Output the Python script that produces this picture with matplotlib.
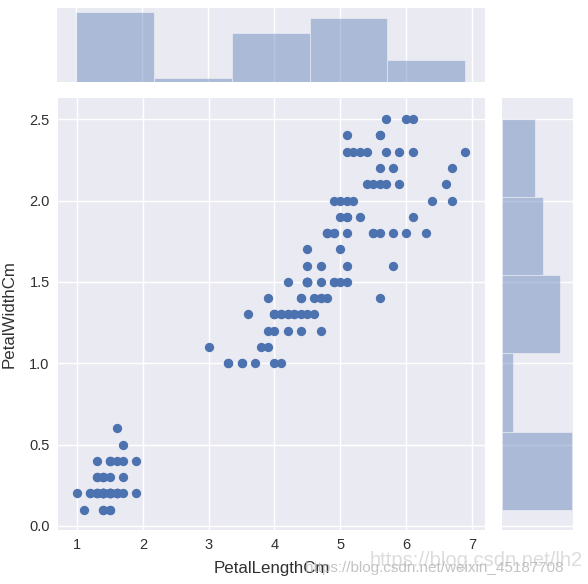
import matplotlib
matplotlib.use("Agg")
import matplotlib.pyplot as plt

# iris petal measurements, setosa / versicolor / virginica
setosa_len = [1.4,1.4,1.3,1.5,1.4,1.7,1.4,1.5,1.4,1.5,1.5,1.6,1.4,1.1,1.2,1.5,1.3,1.4,1.7,1.5,1.7,1.5,1.0,1.7,1.9,
              1.6,1.6,1.5,1.4,1.6,1.6,1.5,1.5,1.4,1.5,1.2,1.3,1.4,1.3,1.5,1.3,1.3,1.3,1.6,1.9,1.4,1.6,1.4,1.5,1.4]
setosa_wid = [.2,.2,.2,.2,.2,.4,.3,.2,.2,.1,.2,.2,.1,.1,.2,.4,.4,.3,.3,.3,.2,.4,.2,.5,.2,
              .2,.4,.2,.2,.2,.2,.4,.1,.2,.2,.2,.2,.1,.2,.2,.3,.3,.2,.6,.4,.3,.2,.2,.2,.2]
versi_len = [4.7,4.5,4.9,4.0,4.5,4.5,4.7,3.3,4.6,3.9,3.5,4.2,4.0,4.7,3.6,4.4,4.5,4.1,4.5,3.9,4.8,4.0,4.9,4.7,4.3,
             4.4,4.8,5.0,4.5,3.5,3.8,3.7,3.9,5.1,4.5,4.5,4.7,4.4,4.1,4.0,4.4,4.6,4.0,3.3,4.2,4.2,4.2,4.3,3.0,4.1]
versi_wid = [1.4,1.5,1.5,1.3,1.5,1.3,1.6,1.0,1.3,1.4,1.0,1.5,1.0,1.4,1.3,1.4,1.5,1.0,1.5,1.1,1.8,1.3,1.5,1.2,1.3,
             1.4,1.4,1.7,1.5,1.0,1.1,1.0,1.2,1.6,1.5,1.6,1.5,1.3,1.3,1.3,1.2,1.4,1.2,1.0,1.3,1.2,1.3,1.3,1.1,1.3]
virg_len = [6.0,5.1,5.9,5.6,5.8,6.6,4.5,6.3,5.8,6.1,5.1,5.3,5.5,5.0,5.1,5.3,5.5,6.7,6.9,5.0,5.7,4.9,6.7,4.9,5.7,
            6.0,4.8,4.9,5.6,5.8,6.1,6.4,5.6,5.1,5.6,6.1,5.6,5.5,4.8,5.4,5.6,5.1,5.1,5.9,5.7,5.2,5.0,5.2,5.4,5.1]
virg_wid = [2.5,1.9,2.1,1.8,2.2,2.1,1.7,1.8,1.8,2.5,2.0,1.9,2.1,2.0,2.4,2.3,1.8,2.2,2.3,1.5,2.3,2.0,2.0,1.8,2.1,
            1.8,1.8,1.8,2.1,1.6,1.9,2.0,2.2,1.5,1.4,2.3,2.4,1.8,1.8,2.1,2.4,2.3,1.9,2.3,2.5,2.3,1.9,2.0,2.3,1.8]

petal_len = setosa_len + versi_len + virg_len
petal_wid = setosa_wid + versi_wid + virg_wid
x_ticks = [1, 2, 3, 4, 5, 6, 7]
y_ticks = [0.0, 0.5, 1.0, 1.5, 2.0, 2.5]

W, H = 588, 584
blue = "#4C72B0"
bg = "#EAEAF2"

plt.rcParams["font.family"] = ["Liberation Sans", "DejaVu Sans"]


def box(x0, y0, x1, y1):
    # pixel box, y measured from the top of the image
    return [x0 / W, 1 - y1 / H, (x1 - x0) / W, (y1 - y0) / H]


fig = plt.figure(figsize=(W / 100, H / 100), dpi=100)
ax = fig.add_axes(box(58, 98, 485, 530))
top = fig.add_axes(box(57, 8, 485, 82))
right = fig.add_axes(box(502, 98, 573, 530))

for a in (ax, top, right):
    a.set_facecolor(bg)
    a.set_axisbelow(True)
    for s in a.spines.values():
        s.set_visible(False)
    a.tick_params(length=0)

ax.scatter(petal_len, petal_wid, s=45, color=blue, linewidths=0)
ax.set_xlim(0.71, 7.2)
ax.set_ylim(-0.025, 2.63)
ax.set_xticks(x_ticks)
ax.set_yticks(y_ticks)
ax.tick_params(labelsize=10.5, labelcolor="#303030", pad=6)
ax.grid(True, color="white", lw=1)
ax.set_xlabel("PetalLengthCm", fontsize=12.2, color="#303030", labelpad=6)
ax.set_ylabel("PetalWidthCm", fontsize=12.2, color="#303030", labelpad=9)

top.hist(petal_len, bins=5, color=blue, alpha=0.4, edgecolor="white", linewidth=0.8)
top.set_xlim(0.71, 7.2)
top.set_ylim(0, 52.9)
top.set_xticks(x_ticks)
top.set_yticks([])
top.tick_params(labelbottom=False)
top.grid(True, axis="x", color="white", lw=1)

right.hist(petal_wid, bins=5, orientation="horizontal", color=blue, alpha=0.4, edgecolor="white", linewidth=0.8)
right.set_ylim(-0.025, 2.63)
right.set_xlim(0, 50)
right.set_yticks(y_ticks)
right.set_xticks([])
right.tick_params(labelleft=False)
right.grid(True, axis="y", color="white", lw=1)

# csdn watermarks over the corner
fig.text(370 / W, 1 - 561 / H, "https://blog.csdn.net/lh2", fontsize=14.5, color="#d4d4d4", alpha=0.8, va="center")
fig.text(305 / W, 1 - 568 / H, "https://blog.csdn.net/weixin_45187708", fontsize=11, color="#b4b4b4", alpha=0.8, va="center")

fig.savefig("out.png", dpi=100)
